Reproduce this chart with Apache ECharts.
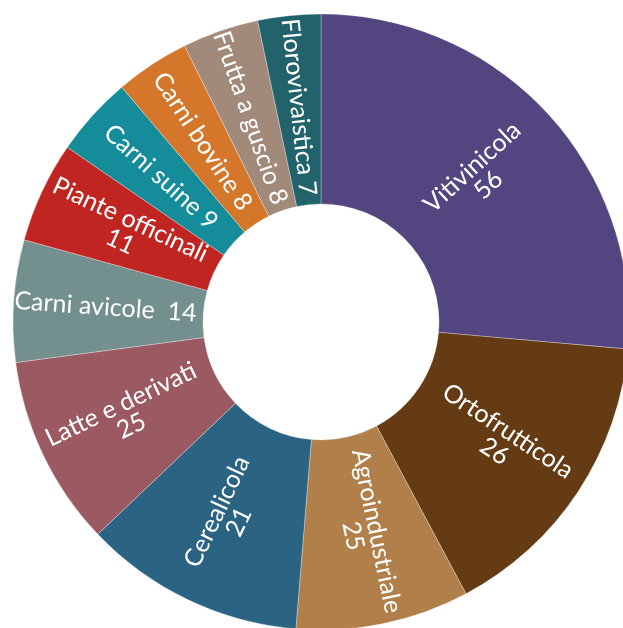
<!DOCTYPE html>
<html>
<head>
<meta charset="utf-8">
<style>
  html, body { margin: 0; padding: 0; background: #fff; }
  #chart { width: 623px; height: 628px; }
</style>
<script src="https://cdn.jsdelivr.net/npm/echarts@6/dist/echarts.min.js"></script>
</head>
<body>
<div id="chart"></div>
<script>
// comparti, in senso orario dall'alto
var categories = ['Vitivinicola', 'Ortofrutticola', 'Agroindustriale', 'Cerealicola', 'Latte e derivati',
    'Carni avicole', 'Piante officinali', 'Carni suine', 'Carni bovine', 'Frutta a guscio', 'Florovivaistica'];
// numeri scritti nelle etichette
var counts = [56, 26, 25, 21, 25, 14, 11, 9, 8, 8, 7];
// ampiezza degli spicchi (quota %)
var shares = [26.4, 15.8, 9.1, 11.6, 10.0, 6.4, 5.3, 4.2, 3.9, 4.0, 3.3];
// separatore tra nome e numero nell'etichetta
var separators = ['\n', '\n', '\n', '\n', '\n', '  ', '\n', ' ', ' ', ' ', ' '];
var colors = ['#534580', '#653b13', '#b07f4a', '#2b6383', '#9b5a62',
    '#738f8e', '#c12522', '#148c9a', '#d4772a', '#a28a7b', '#22636b'];

var pieData = [];
for (var i = 0; i < categories.length; i++) {
    pieData.push({
        name: categories[i],
        value: shares[i],
        itemStyle: { color: colors[i] }
    });
}

var myChart = echarts.init(document.getElementById('chart'));
var option = {
    animation: false,
    series: [
        {
            type: 'pie',
            center: [321, 322],
            radius: [118, 308],
            startAngle: 90,
            clockwise: true,
            avoidLabelOverlap: false,
            itemStyle: {
                borderColor: 'rgba(255,255,255,0.6)',
                borderWidth: 0.5
            },
            label: {
                show: true,
                position: 'inside',
                rotate: 'radial',
                color: '#fff',
                fontFamily: 'Lato',
                fontSize: 25,
                lineHeight: 24,
                formatter: function (p) {
                    return p.name + separators[p.dataIndex] + counts[p.dataIndex];
                }
            },
            labelLine: { show: false },
            data: pieData
        }
    ]
};
myChart.setOption(option);
</script>
</body>
</html>
